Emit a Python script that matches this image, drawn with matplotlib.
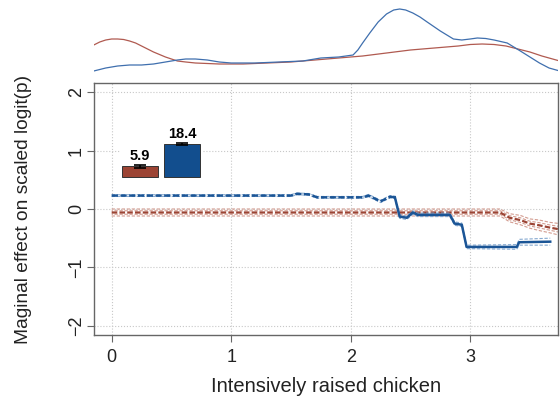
import numpy as np
from matplotlib import pyplot as plt

plt.rcParams['font.family'] = ['Liberation Sans', 'DejaVu Sans']

# marginal effect curves (main estimate + half-width of the band)
blue_x = [0.0, 1.50, 1.55, 1.65, 1.72, 2.10, 2.15, 2.25, 2.33, 2.37, 2.41, 2.47, 2.52, 2.56, 2.83, 2.87, 2.93, 2.97, 3.39, 3.41, 3.67]
blue_y = [0.23, 0.23, 0.26, 0.25, 0.20, 0.20, 0.23, 0.13, 0.21, 0.20, -0.13, -0.15, -0.06, -0.10, -0.10, -0.25, -0.27, -0.65, -0.65, -0.57, -0.56]
blue_hw = [0.015, 0.015, 0.015, 0.015, 0.015, 0.015, 0.02, 0.02, 0.02, 0.02, 0.03, 0.03, 0.03, 0.03, 0.03, 0.03, 0.03, 0.03, 0.04, 0.05, 0.06]

red_x = [0.0, 3.00, 3.25, 3.33, 3.42, 3.50, 3.58, 3.67, 3.75]
red_y = [-0.06, -0.06, -0.06, -0.15, -0.19, -0.25, -0.28, -0.32, -0.35]
red_hw = [0.06, 0.06, 0.06, 0.07, 0.08, 0.08, 0.09, 0.09, 0.10]

# densities of the covariate in the two groups
dens_red_x = [-0.15, -0.1, -0.05, 0.0, 0.05, 0.1, 0.15, 0.2, 0.25, 0.3, 0.35, 0.4, 0.45, 0.5, 0.55, 0.62, 0.7, 0.8, 0.9, 1.1, 1.3, 1.5, 1.7, 1.9, 2.1, 2.3, 2.5, 2.7, 2.9, 3.0, 3.1, 3.2, 3.3, 3.4, 3.5, 3.6, 3.75]
dens_red = [0.35, 0.38, 0.40, 0.41, 0.41, 0.405, 0.39, 0.37, 0.34, 0.31, 0.28, 0.255, 0.23, 0.21, 0.19, 0.18, 0.17, 0.165, 0.16, 0.16, 0.17, 0.18, 0.20, 0.22, 0.24, 0.27, 0.30, 0.32, 0.34, 0.355, 0.36, 0.355, 0.34, 0.31, 0.28, 0.24, 0.19]
dens_blue_x = [-0.15, -0.05, 0.05, 0.15, 0.25, 0.35, 0.45, 0.55, 0.62, 0.7, 0.8, 0.9, 1.0, 1.2, 1.4, 1.6, 1.75, 1.9, 2.02, 2.06, 2.1, 2.16, 2.23, 2.3, 2.36, 2.41, 2.46, 2.52, 2.58, 2.64, 2.75, 2.86, 2.93, 3.0, 3.06, 3.13, 3.2, 3.31, 3.42, 3.5, 3.58, 3.66, 3.75]
dens_blue = [0.09, 0.12, 0.14, 0.15, 0.15, 0.16, 0.18, 0.20, 0.21, 0.21, 0.20, 0.18, 0.17, 0.17, 0.18, 0.19, 0.22, 0.23, 0.25, 0.30, 0.37, 0.47, 0.58, 0.66, 0.70, 0.71, 0.70, 0.67, 0.63, 0.58, 0.49, 0.41, 0.40, 0.41, 0.42, 0.415, 0.40, 0.37, 0.29, 0.23, 0.17, 0.12, 0.09]

# group sizes (%) for the inset bars
groups = ['a', 'b']
group_pct = [5.9, 18.4]
group_err = [0.8, 0.7]

c_blue = '#1b5596'
c_blue_lt = '#86a9d0'
c_red = '#9c4434'
c_red_lt = '#d39c90'

xlim = (-0.148, 3.735)

fig = plt.figure(figsize=(5.6, 4.01), dpi=100)

# top panel: densities
axd = fig.add_axes([94/560, 1-80/401, 464/560, 75/401])
axd.plot(dens_red_x, dens_red, c='#b05a50', lw=0.9)
axd.plot(dens_blue_x, dens_blue, c='#3f6fae', lw=0.9)
axd.set_xlim(xlim)
axd.set_ylim(0, 0.75)
axd.axis('off')

# main panel
ax = fig.add_axes([94/560, 1-335/401, 464/560, 252/401])
ax.set_xlim(xlim)
ax.set_ylim(-2.16, 2.16)
ax.grid(True, ls=':', c='#c8c8c8', lw=0.8)
ax.set_axisbelow(True)

rx = np.array(red_x); ry = np.array(red_y); rh = np.array(red_hw)
for k in (1, -1):
    ax.plot(rx, ry + k*rh, c=c_red_lt, lw=0.8, ls=(0, (3, 1.5)))
    ax.plot(rx, ry + k*rh/2, c=c_red_lt, lw=0.8, ls=(2, (3, 1.5)))
ax.plot(rx, ry, c=c_red, lw=1.6, ls=(0, (2.5, 1)))

bx = np.array(blue_x); by = np.array(blue_y); bh = np.array(blue_hw)
for k in (1, -1):
    ax.plot(bx, by + k*bh, c=c_blue_lt, lw=0.8, ls=(0, (3, 1.5)))
ax.plot(bx[:10], by[:10], c=c_blue, lw=1.8, ls=(0, (2.5, 1)))
ax.plot(bx[9:], by[9:], c=c_blue, lw=1.8)

ax.set_xticks([0, 1, 2, 3])
ax.set_yticks([-2, -1, 0, 1, 2])
ax.tick_params(axis='both', length=5, color='#666666', labelsize=13, labelcolor='#222222')
ax.tick_params(axis='x', pad=5)
ax.tick_params(axis='y', pad=1.5)
for lab in ax.get_yticklabels():
    lab.set_rotation(90)
    lab.set_va('center')
for sp in ax.spines.values():
    sp.set_color('#666666')
    sp.set_linewidth(1.0)
ax.set_xlabel('Intensively raised chicken', fontsize=14.5, color='#222222', labelpad=8)
ax.set_ylabel('Maginal effect on scaled logit(p)', fontsize=13.8, color='#222222', labelpad=26)

# inset: share of each group
axb = fig.add_axes([121/560, 1-179/401, 82/560, 51/401])
axb.set_xlim(-0.45, 1.5)
axb.set_ylim(-1.115, 27.32)
axb.bar([0, 1], group_pct, width=0.857, color=[c_red, '#124e8e'], edgecolor='#333333', lw=0.7)
axb.errorbar([0, 1], group_pct, yerr=group_err, fmt='none', ecolor='black', elinewidth=1.2, capsize=4, capthick=1.2)
for i, v in enumerate(group_pct):
    axb.annotate(f'{v}', (i, v + group_err[i]), xytext=(0, 1.5), textcoords='offset points',
                 ha='center', va='bottom', fontsize=10.5, fontweight='bold')
axb.set_facecolor('white')
axb.set_xticks([])
axb.set_yticks([])
for sp in axb.spines.values():
    sp.set_visible(False)

fig.savefig('out.png', dpi=100)
